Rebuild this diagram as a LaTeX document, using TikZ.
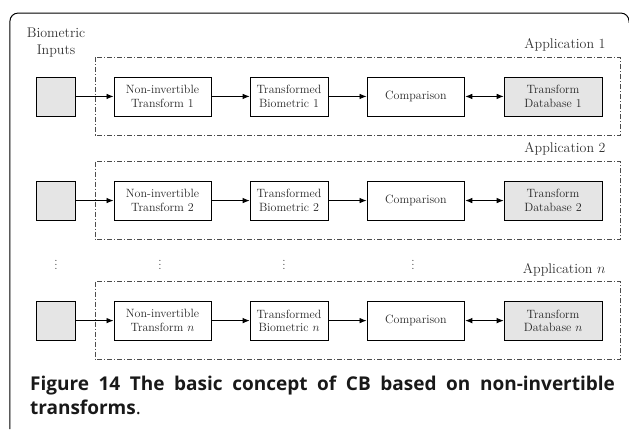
\documentclass[tikz,border=0pt]{standalone}
\usepackage{amsmath,amssymb}
\usepackage{xcolor}
\usepackage{fontspec}
\newfontfamily\capfont{Open Sans}
\usepackage{tikz}
\usetikzlibrary{arrows,arrows.meta,calc}
\tikzset{
	procbox/.style={
			draw, line width=0.8pt, minimum height=1.37cm, inner sep=0pt,
			align=center, text=black!85,
			font=\fontsize{12}{13.5}\selectfont
		},
	grayed/.style={fill=gray!20},
	appbox/.style={draw=black!70, line width=0.6pt,
			dash pattern=on 5pt off 2pt on 1pt off 2pt},
	applabel/.style={anchor=base east, text=black!80,
			font=\fontsize{14}{17}\selectfont},
	flow/.style={-{Latex[length=7pt,width=5.5pt]}, line width=0.8pt},
	flowboth/.style={{Latex[length=7pt,width=5.5pt]}-{Latex[length=7pt,width=5.5pt]}, line width=0.8pt}
}

\begin{document}
\begin{tikzpicture}
        \useasboundingbox (0, 0) rectangle (22.11, -15.08);
        \draw[line width=1pt, rounded corners=8pt] (0.35, -15.08) -- (0.35, -0.46) -- (22.11, -0.46) -- (22.11, -0.8);
        \node[align=center, text=black!80, font=\fontsize{14}{17}\selectfont] (bio_in) at (1.97, -1.51) {Biometric\\Inputs};
        % application 1
        \draw[appbox] (3.34, -2.02) rectangle (21.81, -4.76);
        \node[applabel] (app_1) at (21.41, -1.69) {Application 1};
        \node[procbox, grayed, minimum width=1.37cm] (in_1) at (1.95, -3.39) {};
        \node[procbox, minimum width=3.41cm] (nt_1) at (5.71, -3.39) {Non-invertible\\Transform 1};
        \node[procbox, minimum width=2.74cm] (tb_1) at (10.16, -3.39) {Transformed\\Biometric 1};
        \node[procbox, minimum width=3.44cm] (cmp_1) at (14.62, -3.39) {Comparison};
        \node[procbox, grayed, minimum width=3.44cm] (db_1) at (19.44, -3.39) {Transform\\Database 1};
        \draw[flow] (in_1) -- (nt_1);
        \draw[flow] (nt_1) -- (tb_1);
        \draw[flow] (tb_1) -- (cmp_1);
        \draw[flowboth] (cmp_1) -- (db_1);
        % application 2
        \draw[appbox] (3.34, -5.68) rectangle (21.81, -8.42);
        \node[applabel] (app_2) at (21.41, -5.35) {Application 2};
        \node[procbox, grayed, minimum width=1.37cm] (in_2) at (1.95, -7.05) {};
        \node[procbox, minimum width=3.41cm] (nt_2) at (5.71, -7.05) {Non-invertible\\Transform 2};
        \node[procbox, minimum width=2.74cm] (tb_2) at (10.16, -7.05) {Transformed\\Biometric 2};
        \node[procbox, minimum width=3.44cm] (cmp_2) at (14.62, -7.05) {Comparison};
        \node[procbox, grayed, minimum width=3.44cm] (db_2) at (19.44, -7.05) {Transform\\Database 2};
        \draw[flow] (in_2) -- (nt_2);
        \draw[flow] (nt_2) -- (tb_2);
        \draw[flow] (tb_2) -- (cmp_2);
        \draw[flowboth] (cmp_2) -- (db_2);
        % dots
        \node[text=black!80, font=\large] (dots_in) at (1.97, -9.2) {$\vdots$};
        \node[text=black!80, font=\large] (dots_nt) at (5.62, -9.2) {$\vdots$};
        \node[text=black!80, font=\large] (dots_tb) at (9.98, -9.2) {$\vdots$};
        \node[text=black!80, font=\large] (dots_cmp) at (14.52, -9.2) {$\vdots$};
        % application n
        \draw[appbox] (3.34, -9.90) rectangle (21.81, -12.64);
        \node[applabel] (app_n) at (21.41, -9.60) {Application $n$};
        \node[procbox, grayed, minimum width=1.37cm] (in_n) at (1.95, -11.27) {};
        \node[procbox, minimum width=3.41cm] (nt_n) at (5.71, -11.27) {Non-invertible\\Transform $n$};
        \node[procbox, minimum width=2.74cm] (tb_n) at (10.16, -11.27) {Transformed\\Biometric $n$};
        \node[procbox, minimum width=3.44cm] (cmp_n) at (14.62, -11.27) {Comparison};
        \node[procbox, grayed, minimum width=3.44cm] (db_n) at (19.44, -11.27) {Transform\\Database $n$};
        \draw[flow] (in_n) -- (nt_n);
        \draw[flow] (nt_n) -- (tb_n);
        \draw[flow] (tb_n) -- (cmp_n);
        \draw[flowboth] (cmp_n) -- (db_n);
        \node[anchor=north west, inner sep=0pt, text width=20.56cm, align=justify, text=black!90,
              font=\capfont\bfseries\fontsize{19}{24}\selectfont] (caption) at (1.05, -13.22)
              {Figure 14 The basic concept of CB based on non-invertible\linebreak transforms{\mdseries.}};
    \end{tikzpicture}
\end{document}
